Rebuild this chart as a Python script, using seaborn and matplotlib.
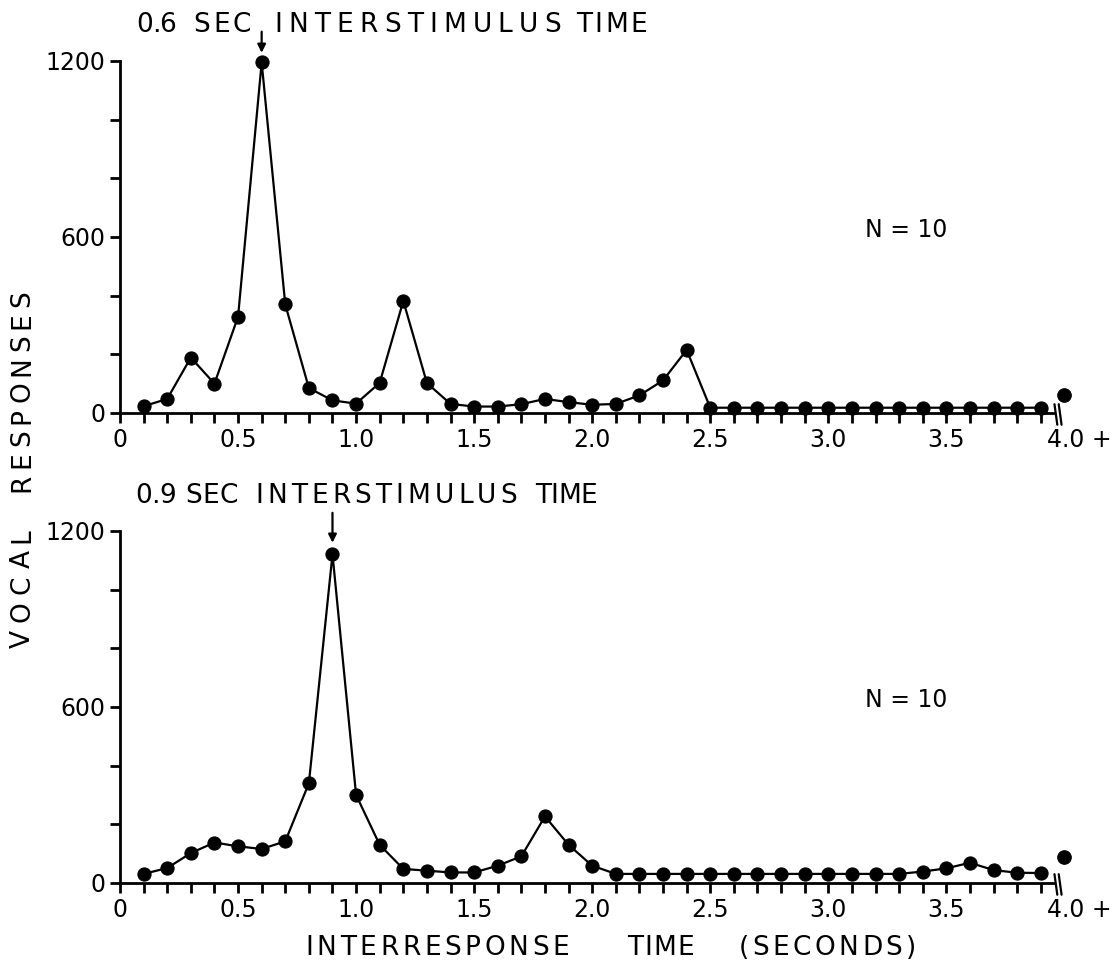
import numpy as np
import pandas as pd
import matplotlib
matplotlib.use("Agg")
import matplotlib.pyplot as plt
import matplotlib.transforms as mtransforms
import seaborn as sns

# ---------------- data ----------------
irt_sec = [0.1, 0.2, 0.3, 0.4, 0.5, 0.6, 0.7, 0.8, 0.9, 1.0,
           1.1, 1.2, 1.3, 1.4, 1.5, 1.6, 1.7, 1.8, 1.9, 2.0,
           2.1, 2.2, 2.3, 2.4, 2.5, 2.6, 2.7, 2.8, 2.9, 3.0,
           3.1, 3.2, 3.3, 3.4, 3.5, 3.6, 3.7, 3.8, 3.9]

resp_isi_06 = [23, 48, 189, 100, 328, 1195, 370, 85, 43, 32,
               103, 382, 102, 31, 22, 22, 30, 48, 37, 28,
               31, 60, 111, 215, 18, 18, 18, 18, 18, 18,
               18, 18, 18, 18, 18, 18, 18, 18, 18]

resp_isi_09 = [31, 51, 102, 138, 125, 116, 142, 340, 1121, 300,
               130, 48, 42, 36, 36, 59, 91, 227, 130, 59,
               31, 31, 31, 31, 31, 31, 31, 31, 31, 31,
               31, 31, 31, 39, 50, 69, 44, 35, 34]

overflow_x = [4.0]
overflow_06 = [62]
overflow_09 = [88]

isi_values = [0.6, 0.9]
title_words = [["0.6", "SEC", "INTERSTIMULUS", "TIME"],
               ["0.9", "SEC", "INTERSTIMULUS", "TIME"]]
xlabel_words = ["INTERRESPONSE", "TIME", "(SECONDS)"]
ylabel_words = ["VOCAL", "RESPONSES"]
n_label = "N = 10"
y_major = [0, 600, 1200]
y_minor = [200, 400, 800, 1000]
x_major = [0.0, 0.5, 1.0, 1.5, 2.0, 2.5, 3.0, 3.5]
x_major_labels = ["0", "0.5", "1.0", "1.5", "2.0", "2.5", "3.0", "3.5"]
x_minor = [v for v in irt_sec if v not in x_major]
overflow_label = "4.0 +"

# ---------------- style ----------------
sns.set_style("ticks")
plt.rcParams["font.family"] = ["DejaVu Sans"]
plt.rcParams.update({"text.color": "black", "axes.labelcolor": "black",
                     "xtick.color": "black", "ytick.color": "black",
                     "axes.edgecolor": "black"})

W, H = 1120, 973
fig = plt.figure(figsize=(W / 100, H / 100), dpi=100)
renderer = fig.canvas.get_renderer()

ax_left = 120 / W
ax_w = 968 / W
ax_h = 352 / H
ax_top = fig.add_axes([ax_left, (H - 413) / H, ax_w, ax_h])
ax_bot = fig.add_axes([ax_left, (H - 883) / H, ax_w, ax_h])


def char_widths(word, size):
    ws = []
    for ch in word:
        t = fig.text(0, 0, ch, fontsize=size)
        ws.append(t.get_window_extent(renderer=renderer).width)
        t.remove()
    return ws


def spaced_word(word, start, end, cross, size, vertical=False):
    """Letter-spaced word in figure pixel coordinates (y measured from top)."""
    ws = char_widths(word, size)
    gap = (abs(end - start) - sum(ws)) / max(len(word) - 1, 1)
    cap = 0.73 * size * 100 / 72
    pos = 0.0
    for ch, w in zip(word, ws):
        if not vertical:
            fig.text((start + pos) / W, 1 - (cross + cap / 2) / H, ch, fontsize=size,
                     ha="left", va="baseline", color="black")
        else:
            fig.text((cross + cap / 2) / W, 1 - (start - pos) / H, ch, fontsize=size,
                     rotation=90, rotation_mode="anchor", ha="left", va="baseline",
                     color="black")
        pos += w + gap


# word extents (pixels) for the letter-spaced labels
title_spans = [[(136, 176), (193, 251), (274, 561), (576, 647)],
               [(135, 176), (185, 238), (255, 517), (535, 597)]]
title_rows = [22, 493]

panels = [
    (ax_top, resp_isi_06, overflow_06, isi_values[0], (1300, 1228)),
    (ax_bot, resp_isi_09, overflow_09, isi_values[1], (1262, 1160)),
]

for ax, resp, ovf, isi, arr in panels:
    df = pd.DataFrame({"irt": irt_sec, "resp": resp})
    sns.lineplot(data=df, x="irt", y="resp", ax=ax, color="black", linewidth=1.6,
                 marker="o", markersize=9.5, markeredgecolor="black",
                 markerfacecolor="black", clip_on=False)
    dfo = pd.DataFrame({"irt": overflow_x, "resp": ovf})
    sns.scatterplot(data=dfo, x="irt", y="resp", ax=ax, color="black", s=95,
                    edgecolor="black", clip_on=False, zorder=5)

    ax.set_xlim(0, 4.1)
    ax.set_ylim(0, 1200)
    ax.set_xlabel("")
    ax.set_ylabel("")
    for s in ["top", "right"]:
        ax.spines[s].set_visible(False)
    ax.spines["left"].set_linewidth(2.0)
    ax.spines["bottom"].set_linewidth(2.0)
    ax.spines["left"].set_bounds(0, 1200)
    ax.spines["bottom"].set_bounds(0, 3.955)

    ax.set_yticks(y_major)
    ax.set_yticklabels([str(v) for v in y_major])
    ax.set_yticks(y_minor, minor=True)
    ax.set_xticks(x_major)
    ax.set_xticklabels(x_major_labels)
    ax.set_xticks(x_minor, minor=True)
    ax.tick_params(axis="both", which="both", direction="out", length=7.5, width=2.0,
                   color="black", labelsize=17, labelcolor="black", pad=3)

    # axis break marks
    for x0 in (3.958, 3.976):
        ax.plot([x0, x0 + 0.012], [30, -40], color="black", lw=1.6, clip_on=False)
    off = mtransforms.offset_copy(ax.transData, fig=fig, y=-10.5, units="points")
    ax.text(3.928, 0, overflow_label, ha="left", va="top", fontsize=17,
            transform=off, color="black")

    ax.annotate("", xy=(isi, arr[1]), xytext=(isi, arr[0]),
                arrowprops=dict(arrowstyle="-|>", color="black", lw=1.6,
                                mutation_scale=12, shrinkA=0, shrinkB=0),
                annotation_clip=False)
    ax.text(3.33, 624, n_label, ha="center", va="center", fontsize=17, color="black")

for words, spans, row in zip(title_words, title_spans, title_rows):
    for wd, (a, b) in zip(words, spans):
        spaced_word(wd, a, b, row, 19)

for wd, (a, b) in zip(xlabel_words, [(305, 569), (627, 694), (739, 916)]):
    spaced_word(wd, a, b, 945, 19)

for wd, (a, b) in zip(ylabel_words, [(648, 528), (492, 290)]):
    spaced_word(wd, a, b, 20, 19, vertical=True)

fig.savefig("out.png", dpi=100)
